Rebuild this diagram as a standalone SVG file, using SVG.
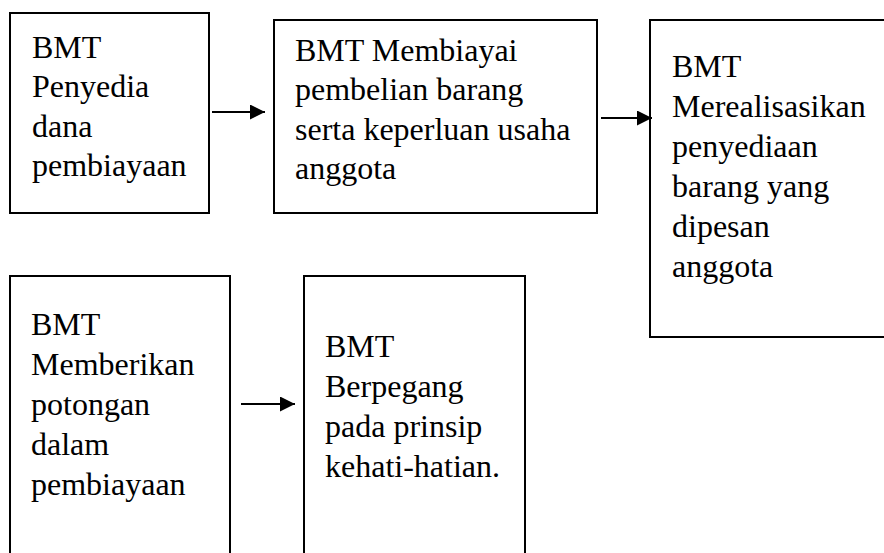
<svg xmlns="http://www.w3.org/2000/svg" width="884" height="553" viewBox="0 0 884 553">
<style>
.box{fill:#fff;stroke:#000;stroke-width:2}
.t{font-family:'Liberation Serif','Tinos','Times New Roman','DejaVu Serif',serif;font-size:32px;fill:#000}
.c{stroke:#000;stroke-width:2;fill:none}
</style>
<defs>
<marker id="ah" viewBox="0 0 10 10" refX="10" refY="5" markerWidth="15" markerHeight="15" markerUnits="userSpaceOnUse" orient="auto">
<path d="M0,0 L10,5 L0,10 Z" fill="#000"/>
</marker>
</defs>
<rect width="884" height="553" fill="#fff"/>
<g id="node1">
<rect class="box" x="10" y="13" width="199" height="200"/>
<text class="t"><tspan x="32" y="58">BMT</tspan><tspan x="32" y="97">Penyedia</tspan><tspan x="32" y="137">dana</tspan><tspan x="32" y="176">pembiayaan</tspan></text>
</g>
<g id="node2">
<rect class="box" x="274" y="20" width="323" height="193"/>
<text class="t"><tspan x="295" y="61">BMT Membiayai</tspan><tspan x="295" y="100">pembelian barang</tspan><tspan x="295" y="140">serta keperluan usaha</tspan><tspan x="295" y="179">anggota</tspan></text>
</g>
<g id="node3">
<rect class="box" x="650" y="20" width="250" height="317"/>
<text class="t"><tspan x="672" y="77">BMT</tspan><tspan x="672" y="117">Merealisasikan</tspan><tspan x="672" y="157">penyediaan</tspan><tspan x="672" y="197">barang yang</tspan><tspan x="672" y="237">dipesan</tspan><tspan x="672" y="277">anggota</tspan></text>
</g>
<g id="node4">
<rect class="box" x="10" y="276" width="220" height="290"/>
<text class="t"><tspan x="31" y="335">BMT</tspan><tspan x="31" y="375">Memberikan</tspan><tspan x="31" y="415">potongan</tspan><tspan x="31" y="455">dalam</tspan><tspan x="31" y="495">pembiayaan</tspan></text>
</g>
<g id="node5">
<rect class="box" x="304" y="276" width="221" height="290"/>
<text class="t"><tspan x="325" y="357">BMT</tspan><tspan x="325" y="397">Berpegang</tspan><tspan x="325" y="437">pada prinsip</tspan><tspan x="325" y="477">kehati-hatian.</tspan></text>
</g>
<g id="connectors">
<line class="c" x1="212" y1="112" x2="265" y2="112" marker-end="url(#ah)"/>
<line class="c" x1="601" y1="118" x2="652" y2="118" marker-end="url(#ah)"/>
<line class="c" x1="241" y1="404" x2="295" y2="404" marker-end="url(#ah)"/>
</g>
</svg>
